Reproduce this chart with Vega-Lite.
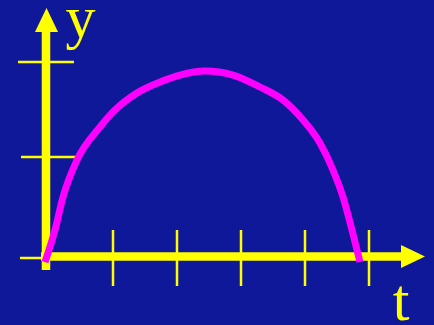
{
  "$schema": "https://vega.github.io/schema/vega-lite/v6.json",
  "width": 434,
  "height": 325,
  "padding": 0,
  "autosize": {"type": "none"},
  "background": "#10189A",
  "config": {"view": {"stroke": null}},
  "datasets": {
    "ticks": [
      {"x": -0.484, "x2": 0.39, "y": 2.0, "y2": 2.0},
      {"x": -0.4375, "x2": 0.42, "y": 1.03, "y2": 1.03},
      {"x": -0.453, "x2": -0.109, "y": 0, "y2": 0},
      {"x": 1, "x2": 1, "y": 0.286, "y2": -0.286},
      {"x": 2, "x2": 2, "y": 0.286, "y2": -0.286},
      {"x": 3, "x2": 3, "y": 0.286, "y2": -0.286},
      {"x": 4, "x2": 4, "y": 0.286, "y2": -0.286},
      {"x": 5, "x2": 5, "y": 0.286, "y2": -0.286}
    ],
    "axes": [
      {"x": -0.047, "x2": -0.047, "y": -0.122, "y2": 2.33},
      {"x": -0.125, "x2": 5.52, "y": 0.015, "y2": 0.015}
    ],
    "arrowUp": [{"x": -0.039, "y": 2.4286}],
    "arrowRight": [{"x": 5.6875, "y": 0.015}],
    "curve": [
      {"x": -0.0625, "y": -0.041},
      {"x": 0.094, "y": 0.286},
      {"x": 0.219, "y": 0.622},
      {"x": 0.4375, "y": 1.0},
      {"x": 0.797, "y": 1.337},
      {"x": 1.031, "y": 1.51},
      {"x": 1.375, "y": 1.684},
      {"x": 1.734, "y": 1.796},
      {"x": 2.047, "y": 1.867},
      {"x": 2.4375, "y": 1.908},
      {"x": 2.875, "y": 1.867},
      {"x": 3.297, "y": 1.745},
      {"x": 3.656, "y": 1.612},
      {"x": 3.969, "y": 1.408},
      {"x": 4.234, "y": 1.173},
      {"x": 4.4375, "y": 0.898},
      {"x": 4.594, "y": 0.622},
      {"x": 4.734, "y": 0.286},
      {"x": 4.859, "y": -0.041}
    ],
    "labels": [
      {"x": 0.492, "y": 2.255, "label": "y"},
      {"x": 5.5, "y": -0.633, "label": "t"}
    ]
  },
  "encoding": {
    "x": {"field": "x", "type": "quantitative", "scale": {"domain": [-0.765625, 6.015625], "nice": false, "zero": false}, "axis": null},
    "y": {"field": "y", "type": "quantitative", "scale": {"domain": [-0.6837, 2.6327], "nice": false, "zero": false}, "axis": null}
  },
  "layer": [
    {
      "data": {"name": "ticks"},
      "mark": {"type": "rule", "color": "#FFFF00", "strokeWidth": 2.5},
      "encoding": {"x2": {"field": "x2"}, "y2": {"field": "y2"}}
    },
    {
      "data": {"name": "axes"},
      "mark": {"type": "rule", "color": "#FFFF00", "strokeWidth": 8.5},
      "encoding": {"x2": {"field": "x2"}, "y2": {"field": "y2"}}
    },
    {
      "data": {"name": "arrowUp"},
      "mark": {"type": "point", "filled": true, "color": "#FFFF00", "opacity": 1, "size": 576, "shape": "M0,-1L0.96,1L-0.96,1Z"}
    },
    {
      "data": {"name": "arrowRight"},
      "mark": {"type": "point", "filled": true, "color": "#FFFF00", "opacity": 1, "size": 576, "shape": "M1,0L-1,-0.96L-1,0.96Z"}
    },
    {
      "data": {"name": "curve"},
      "mark": {"type": "line", "color": "#FF00FF", "strokeWidth": 7, "interpolate": "monotone"},
      "encoding": {"order": {"field": "x", "type": "quantitative"}}
    },
    {
      "data": {"name": "labels"},
      "mark": {"type": "text", "color": "#FFFF00", "font": "Liberation Serif", "fontSize": 60, "align": "center", "baseline": "alphabetic"},
      "encoding": {"text": {"field": "label"}}
    }
  ]
}
